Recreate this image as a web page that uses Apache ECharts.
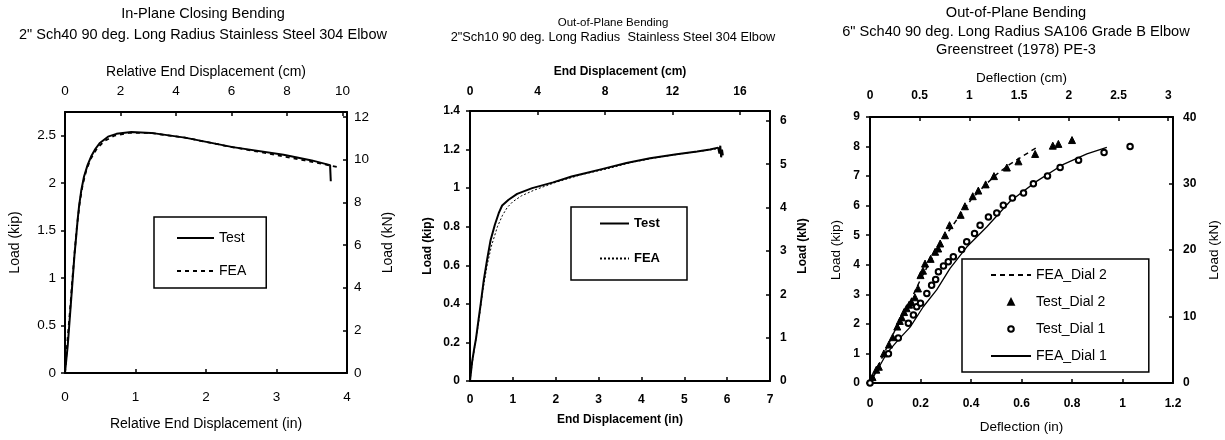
<!DOCTYPE html>
<html><head><meta charset="utf-8">
<script src="https://cdn.jsdelivr.net/npm/echarts@6/dist/echarts.min.js"></script>
<style>html,body{margin:0;padding:0;background:#fff}#c{width:1225px;height:440px}</style>
</head><body><div id="c"></div>
<script>
// ---------- DATA (inches, kip) ----------
const p1Test = [[0,0],[0.02,0.15],[0.04,0.3],[0.06,0.5],[0.085,0.75],[0.11,1.0],[0.135,1.25],[0.16,1.45],[0.18,1.62],[0.2,1.76],[0.23,1.92],[0.27,2.07],[0.32,2.19],[0.37,2.28],[0.43,2.36],[0.49,2.42],[0.61,2.49],[0.73,2.52],[0.94,2.54],[1.22,2.53],[1.7,2.48],[2.38,2.38],[3.1,2.3],[3.5,2.24],[3.76,2.19],[3.77,2.02]];
const p1FEA = [[0,0],[0.03,0.3],[0.07,0.65],[0.1,0.95],[0.14,1.3],[0.17,1.55],[0.21,1.8],[0.25,1.98],[0.3,2.13],[0.36,2.25],[0.44,2.35],[0.55,2.44],[0.7,2.5],[0.9,2.53],[1.2,2.53],[1.7,2.48],[2.3,2.39],[2.9,2.31],[3.4,2.24],[3.87,2.17]];

const p2Test = [[0,0],[0.05,0.1],[0.1,0.17],[0.14,0.22],[0.2,0.32],[0.25,0.4],[0.32,0.52],[0.4,0.63],[0.48,0.73],[0.58,0.81],[0.67,0.87],[0.75,0.91],[0.9,0.94],[1.1,0.97],[1.45,1.0],[1.94,1.03],[2.37,1.06],[2.64,1.075],[3.1,1.1],[3.65,1.13],[4.2,1.155],[4.82,1.176],[5.3,1.19],[5.6,1.2],[5.79,1.21],[5.82,1.18],[5.84,1.22],[5.86,1.16],[5.88,1.2],[5.9,1.17]];
const p2FEA = [[0,0],[0.05,0.09],[0.12,0.19],[0.2,0.3],[0.3,0.47],[0.4,0.6],[0.5,0.7],[0.64,0.8],[0.76,0.86],[0.87,0.9],[1.0,0.93],[1.2,0.96],[1.5,0.99],[2.0,1.03],[2.6,1.07],[3.2,1.1],[3.8,1.135],[4.4,1.16],[5.0,1.18],[5.5,1.195],[5.8,1.205]];

const p3FEADial2 = [[0,0],[0.05,0.9],[0.1,1.8],[0.15,2.6],[0.2,3.5],[0.25,4.3],[0.3,5.0],[0.35,5.6],[0.4,6.2],[0.45,6.65],[0.5,7.05],[0.55,7.38],[0.6,7.65],[0.66,7.97]];
const p3TestDial2 = [[0.01,0.2],[0.025,0.45],[0.035,0.55],[0.055,1.0],[0.075,1.3],[0.09,1.55],[0.108,1.91],[0.118,2.1],[0.126,2.22],[0.135,2.4],[0.145,2.53],[0.155,2.65],[0.165,2.72],[0.178,2.9],[0.19,3.2],[0.2,3.65],[0.21,3.8],[0.218,4.04],[0.24,4.2],[0.258,4.44],[0.27,4.55],[0.278,4.72],[0.297,5.0],[0.315,5.34],[0.359,5.69],[0.376,5.98],[0.407,6.32],[0.429,6.51],[0.458,6.72],[0.491,7.0],[0.542,7.29],[0.588,7.5],[0.654,7.75],[0.724,8.03],[0.746,8.09],[0.8,8.22]];
const p3TestDial1 = [[0,0],[0.073,0.99],[0.112,1.52],[0.152,2.02],[0.172,2.3],[0.185,2.58],[0.2,2.7],[0.225,3.03],[0.244,3.31],[0.26,3.5],[0.271,3.76],[0.291,3.96],[0.31,4.1],[0.33,4.27],[0.363,4.52],[0.383,4.78],[0.414,5.06],[0.436,5.34],[0.469,5.62],[0.502,5.75],[0.528,6.01],[0.564,6.26],[0.608,6.43],[0.647,6.74],[0.703,7.0],[0.753,7.29],[0.826,7.54],[0.927,7.8],[1.03,8.0]];
const p3FEADial1 = [[0,0],[0.066,1.0],[0.112,1.46],[0.159,1.89],[0.211,2.58],[0.264,3.15],[0.317,3.88],[0.383,4.6],[0.462,5.28],[0.555,6.15],[0.661,6.83],[0.766,7.4],[0.859,7.75],[0.938,7.97]];

// axis ranges (primary units) and conversion factors
const KN_PER_KIP = 4.448222;
const CM_PER_IN = 2.54;
const xMaxIn = [4, 7, 1.2];
const xStepIn = [1, 1, 0.2];
const xStepCm = [2, 4, 0.5];
const yMaxKip = [2.75, 1.4, 9];
const yStepKip = [0.5, 0.2, 1];
const yStepKN = [2, 1, 10];

const titles = [
  ['In-Plane Closing Bending', '2" Sch40 90 deg. Long Radius Stainless Steel 304 Elbow'],
  ['Out-of-Plane Bending', '2"Sch10 90 deg. Long Radius  Stainless Steel 304 Elbow'],
  ['Out-of-Plane Bending', '6" Sch40 90 deg. Long Radius SA106 Grade B Elbow', 'Greenstreet (1978) PE-3']
];
const xNamesIn = ['Relative End Displacement (in)', 'End Displacement (in)', 'Deflection (in)'];
const xNamesCm = ['Relative End Displacement (cm)', 'End Displacement (cm)', 'Deflection (cm)'];
const yNameKip = 'Load (kip)';
const yNameKN = 'Load (kN)';

// ---------- LAYOUT / STYLE ----------
const FONT = 'Liberation Sans, Arial, sans-serif';
const grids = [
  {left: 65, top: 112, width: 282, height: 261},
  {left: 470, top: 111, width: 300, height: 270},
  {left: 870, top: 117, width: 303, height: 266}
];
const st = [
  {lab: 13.5, labW: 'normal', name: 14, nameW: 'normal', bM: 17, bG: 44, tM: 14, tG: 33, lM: 9, lG: 43, rM: 7, rG: 34},
  {lab: 12, labW: 'bold', name: 12, nameW: 'bold', bM: 13, bG: 33, tM: 13, tG: 33, lM: 10, lG: 36, rM: 10, rG: 27},
  {lab: 12, labW: 'bold', name: 13.5, nameW: 'normal', bM: 15, bG: 37, tM: 15, tG: 32, lM: 10, lG: 27, rM: 10, rG: 34}
];
const titleLayout = [
  {x: 203, y: [14, 35], size: [14.5, 14.5]},
  {x: 613, y: [23, 37], size: [11.5, 12.8]},
  {x: 1016, y: [13, 32, 50], size: [14.6, 14.6, 14.6]}
];

function axisCommon(i, tickInside) {
  return {
    gridIndex: i, type: 'value', min: 0,
    splitLine: {show: false},
    axisLine: {show: true, onZero: false, lineStyle: {color: '#000', width: 2}},
    axisTick: {show: true, inside: tickInside, length: 4, lineStyle: {color: '#000', width: 1.5}},
    nameLocation: 'middle',
    nameTextStyle: {color: '#000', fontSize: st[i].name, fontWeight: st[i].nameW, fontFamily: FONT},
  };
}
function lab(i, margin) {
  return {color: '#000', fontSize: st[i].lab, fontWeight: st[i].labW, fontFamily: FONT, margin: margin, showMaxLabel: false, showMinLabel: true, hideOverlap: false};
}

const xAxes = [], yAxes = [];
for (let i = 0; i < 3; i++) {
  xAxes.push(Object.assign(axisCommon(i, true), {position: 'bottom', max: xMaxIn[i], interval: xStepIn[i], name: xNamesIn[i], nameGap: st[i].bG, axisLabel: Object.assign(lab(i, st[i].bM), {showMaxLabel: true})}));
  xAxes.push(Object.assign(axisCommon(i, true), {position: 'top', max: xMaxIn[i] * CM_PER_IN, interval: xStepCm[i], name: xNamesCm[i], nameGap: st[i].tG, axisLabel: lab(i, st[i].tM)}));
  yAxes.push(Object.assign(axisCommon(i, false), {position: 'left', max: yMaxKip[i], interval: yStepKip[i], name: yNameKip, nameGap: st[i].lG, axisLabel: Object.assign(lab(i, st[i].lM), {showMaxLabel: i !== 0})}));
  yAxes.push(Object.assign(axisCommon(i, true), {position: 'right', max: yMaxKip[i] * KN_PER_KIP, interval: yStepKN[i], name: yNameKN, nameGap: st[i].rG, axisLabel: lab(i, st[i].rM)}));
}

function lineSeries(name, i, data, ls) {
  return {name: name, type: 'line', xAxisIndex: 2 * i, yAxisIndex: 2 * i, data: data, symbol: 'none', smooth: false,
    lineStyle: Object.assign({color: '#000'}, ls), itemStyle: {color: '#000', opacity: 0}, z: 3};
}
function markSeries(name, i, data, sym, size) {
  return {name: name, type: 'line', xAxisIndex: 2 * i, yAxisIndex: 2 * i, data: data, symbol: sym, symbolSize: size, showSymbol: true,
    lineStyle: {width: 0, opacity: 0}, itemStyle: {color: '#000', borderColor: '#000', borderWidth: 1}, z: 4};
}

const series = [
  lineSeries('Test#1', 0, p1Test, {width: 2}),
  lineSeries('FEA#1', 0, p1FEA, {width: 1.8, type: [4, 4]}),
  lineSeries('Test#2', 1, p2Test, {width: 2}),
  lineSeries('FEA#2', 1, p2FEA, {width: 1, type: [2, 2]}),
  lineSeries('FEA_Dial 2', 2, p3FEADial2, {width: 1.5, type: [5, 4]}),
  markSeries('Test_Dial 2', 2, p3TestDial2, 'triangle', 7),
  markSeries('Test_Dial 1', 2, p3TestDial1, 'emptyCircle', 5.5),
  lineSeries('FEA_Dial 1', 2, p3FEADial1, {width: 1.3})
];

function legendBox(opts) {
  return Object.assign({
    orient: 'vertical', borderColor: '#000', borderWidth: 1.5, borderRadius: 0, backgroundColor: '#fff',
    formatter: n => n.split('#')[0], selectedMode: false
  }, opts);
}
const legends = [
  legendBox({left: 154, top: 217, padding: [14, 20, 10, 22], itemGap: 19, itemWidth: 37, itemHeight: 14,
    textStyle: {color: '#000', fontSize: 14, fontFamily: FONT},
    data: ['Test#1', 'FEA#1']}),
  legendBox({left: 571, top: 207, padding: [10, 27, 15, 28], itemGap: 22, itemWidth: 29, itemHeight: 14,
    textStyle: {color: '#000', fontSize: 13, fontWeight: 'bold', fontFamily: FONT},
    data: ['Test#2', 'FEA#2']}),
  legendBox({left: 962, top: 259, padding: [9, 42, 9, 28], itemGap: 13, itemWidth: 40, itemHeight: 7,
    textStyle: {color: '#000', fontSize: 14, fontFamily: FONT},
    data: ['FEA_Dial 2', 'Test_Dial 2', 'Test_Dial 1', 'FEA_Dial 1']})
];

const graphics = [];
titles.forEach((lines, i) => {
  lines.forEach((t, k) => {
    graphics.push({type: 'text', x: titleLayout[i].x, y: titleLayout[i].y[k], silent: true,
      style: {text: t, fill: '#000', fontSize: titleLayout[i].size[k], fontFamily: FONT, textAlign: 'center', textVerticalAlign: 'middle'}});
  });
});

const chart = echarts.init(document.getElementById('c'), null, {renderer: 'canvas'});
chart.setOption({
  animation: false,
  backgroundColor: '#fff',
  textStyle: {fontFamily: FONT, color: '#000'},
  grid: grids.map(g => Object.assign({containLabel: false, outerBoundsMode: 'none'}, g)),
  xAxis: xAxes,
  yAxis: yAxes,
  legend: legends,
  graphic: graphics,
  series: series
});
</script></body></html>
